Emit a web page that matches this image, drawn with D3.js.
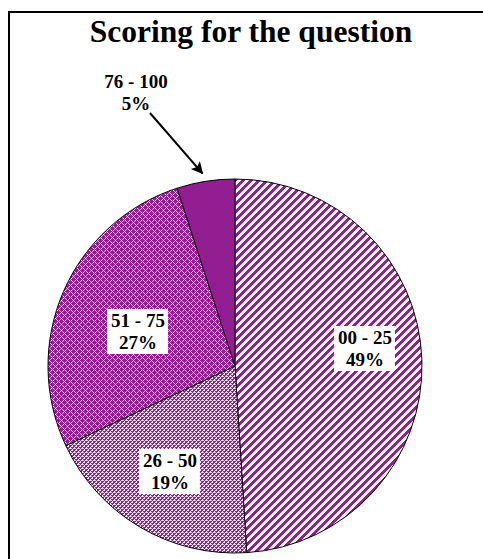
<!DOCTYPE html>
<html>
<head>
<meta charset="utf-8">
<script src="https://cdn.jsdelivr.net/npm/d3@7"></script>
<style>
  html, body { margin: 0; padding: 0; background: #ffffff; }
  svg { display: block; }
</style>
</head>
<body>
<div id="chart"></div>
<script>
// ---- data ----
const title = "Scoring for the question";
const categories = ["00 - 25", "26 - 50", "51 - 75", "76 - 100"];
const values = [49, 19, 27, 5];
const percentLabels = ["49%", "19%", "27%", "5%"];
const patterns = ["stripes", "weave", "lattice", "solid"];

// ---- layout ----
const W = 483, H = 559;
const purple = "#921e92";
const cx = 235, cy = 366, R = 187;
// label anchor points (absolute px, first baseline)
const labelAnchors = [[365, 344], [170, 467], [138, 327], [136, 88]];

const svg = d3.select("#chart").append("svg")
  .attr("width", W).attr("height", H);

const defs = svg.append("defs");

function pixelPattern(id, size, colorAt) {
  const p = defs.append("pattern")
    .attr("id", id)
    .attr("patternUnits", "userSpaceOnUse")
    .attr("width", size).attr("height", size);
  p.append("rect").attr("width", size).attr("height", size).attr("fill", purple);
  for (let y = 0; y < size; y++) {
    for (let x = 0; x < size; x++) {
      const c = colorAt(x, y);
      if (c) {
        p.append("rect").attr("x", x).attr("y", y)
          .attr("width", 1).attr("height", 1)
          .attr("fill", c).attr("shape-rendering", "crispEdges");
      }
    }
  }
}
pixelPattern("pat-stripes", 8, (x, y) => ((x + y) % 8) < 4 ? "#ffffff" : null);
const weaveWhite = ["0,0", "1,0", "3,1", "2,2", "3,2", "1,3"];
const weaveLight = ["0,2"];
pixelPattern("pat-weave", 4, (x, y) => {
  const k = x + "," + y;
  if (weaveWhite.includes(k)) return "#ffffff";
  if (weaveLight.includes(k)) return "#d9aed9";
  return null;
});
pixelPattern("pat-lattice", 6, (x, y) => {
  const d1 = (x + y) % 6 === 0, d2 = ((x - y + 6) % 6) === 0;
  if (d1 || d2) return (x % 2 === 0) ? "#ffffff" : "#d7a8d7";
  return null;
});

function fillFor(i) {
  return patterns[i] === "solid" ? purple : "url(#pat-" + patterns[i] + ")";
}

// frame
svg.append("rect")
  .attr("x", 9).attr("y", 12)
  .attr("width", W + 20).attr("height", H + 20)
  .attr("fill", "none").attr("stroke", "#000").attr("stroke-width", 2);

const font = "'Liberation Serif', 'Times New Roman', serif";

// title
svg.append("text")
  .attr("x", 251).attr("y", 42)
  .attr("text-anchor", "middle")
  .attr("font-family", font)
  .attr("font-weight", "bold")
  .attr("font-size", 31.5)
  .text(title);

// pie
const pie = d3.pie().sort(null).value(d => d)(values);
const arc = d3.arc().innerRadius(0).outerRadius(R);

const g = svg.append("g").attr("transform", `translate(${cx},${cy})`);
g.selectAll("path.slice").data(pie).enter().append("path")
  .attr("class", "slice")
  .attr("d", arc)
  .attr("fill", (d, i) => fillFor(i))
  .attr("stroke", "#000")
  .attr("stroke-width", 1);

// labels
const fontSize = 19, lineH = 22;
pie.forEach((d, i) => {
  const [px, py] = labelAnchors[i];
  const lg = svg.append("g").attr("transform", `translate(${px},${py})`);
  const t1 = lg.append("text")
    .attr("text-anchor", "middle")
    .attr("font-family", font).attr("font-weight", "bold").attr("font-size", fontSize)
    .text(categories[i]);
  const t2 = lg.append("text")
    .attr("text-anchor", "middle")
    .attr("font-family", font).attr("font-weight", "bold").attr("font-size", fontSize)
    .attr("y", lineH)
    .text(percentLabels[i]);
  if (i !== 3) {
    const b1 = t1.node().getBBox();
    const b2 = t2.node().getBBox();
    const x0 = Math.min(b1.x, b2.x) - 4, x1 = Math.max(b1.x + b1.width, b2.x + b2.width) + 3;
    const y0 = b1.y - 1, y1 = b2.y + b2.height + 1;
    lg.insert("rect", "text")
      .attr("x", x0).attr("y", y0)
      .attr("width", x1 - x0).attr("height", y1 - y0)
      .attr("fill", "#ffffff");
  }
});

// arrow for the small slice
defs.append("marker")
  .attr("id", "arrowhead")
  .attr("viewBox", "0 0 10 10")
  .attr("refX", 9).attr("refY", 5)
  .attr("markerWidth", 8).attr("markerHeight", 6)
  .attr("markerUnits", "strokeWidth")
  .attr("orient", "auto")
  .append("path").attr("d", "M0,0 L10,5 L0,10 L2,5 Z").attr("fill", "#000");

const small = pie[3];
const tipAngle = (small.startAngle + small.endAngle) / 2;
const tip = [cx + Math.sin(tipAngle) * (R + 2), cy - Math.cos(tipAngle) * (R + 2)];
svg.append("line")
  .attr("x1", 150).attr("y1", 113)
  .attr("x2", tip[0] - 3).attr("y2", tip[1] - 6)
  .attr("stroke", "#000").attr("stroke-width", 2)
  .attr("marker-end", "url(#arrowhead)");
</script>
</body>
</html>
